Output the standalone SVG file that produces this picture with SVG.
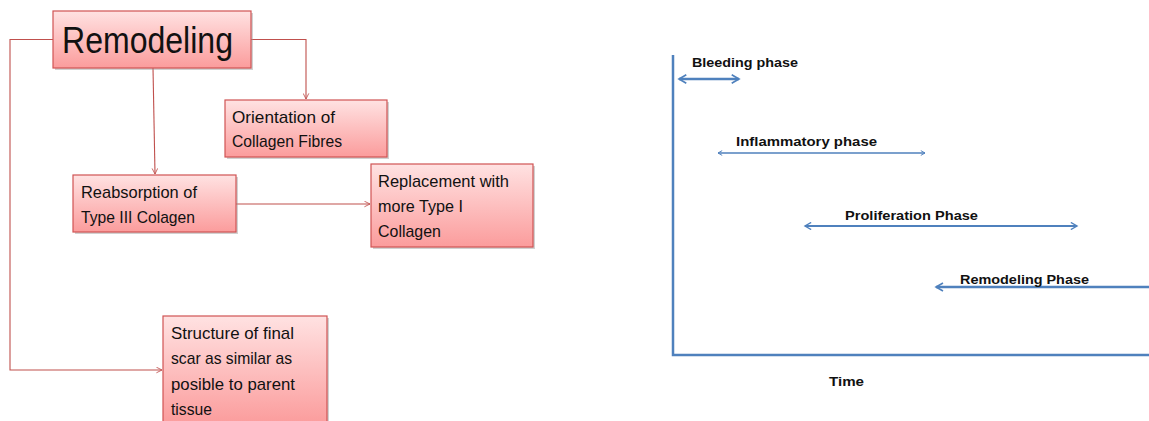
<svg xmlns="http://www.w3.org/2000/svg" width="1149" height="421" viewBox="0 0 1149 421">
<defs>
<linearGradient id="pink" x1="0" y1="0" x2="0" y2="1">
<stop offset="0" stop-color="#ffe2e2"/>
<stop offset="1" stop-color="#fb9c9c"/>
</linearGradient>
<marker id="ra" viewBox="0 0 10 10" refX="9" refY="5" markerWidth="7" markerHeight="7" orient="auto" markerUnits="userSpaceOnUse">
<path d="M1,1 L9,5 L1,9" fill="none" stroke="#c0504d" stroke-width="1.2"/>
</marker>
<marker id="be" viewBox="0 0 10 10" refX="8" refY="5" markerWidth="4" markerHeight="4" orient="auto-start-reverse">
<path d="M1,1 L8,5 L1,9" fill="none" stroke="#4f81bd" stroke-width="1.6"/>
</marker>
</defs>
<style>
.box{fill:url(#pink);stroke:#d05454;stroke-width:1.2}
.sh{fill:#9a9a9a;opacity:0.45}
.t{font-family:"Liberation Sans",Arial,sans-serif;font-size:17px;fill:#111}
.c{fill:none;stroke:#c0504d;stroke-width:1.1}
.b{fill:none;stroke:#4f81bd}
.bt{font-family:"Liberation Sans",Arial,sans-serif;font-size:13.5px;font-weight:bold;fill:#111}
</style>
<g id="connectors">
<polyline class="c" points="53,39.5 10,39.5 10,370 162,370" marker-end="url(#ra)"/>
<polyline class="c" points="251,39.5 306,39.5 306,99" marker-end="url(#ra)"/>
<line class="c" x1="153" y1="68" x2="155" y2="174" marker-end="url(#ra)"/>
<line class="c" x1="236" y1="204" x2="370" y2="204" marker-end="url(#ra)"/>
</g>
<g id="remodeling">
<rect class="sh" x="55" y="13" width="198" height="57"/>
<rect class="box" x="53" y="11" width="198" height="57"/>
<text class="t" x="62" y="53" style="font-size:37px" textLength="171" lengthAdjust="spacingAndGlyphs">Remodeling</text>
</g>
<g id="orientation">
<rect class="sh" x="227" y="102" width="162" height="57"/>
<rect class="box" x="225" y="100" width="162" height="57"/>
<text class="t" x="232" y="123" textLength="103" lengthAdjust="spacingAndGlyphs">Orientation of</text>
<text class="t" x="232" y="147" textLength="110" lengthAdjust="spacingAndGlyphs">Collagen Fibres</text>
</g>
<g id="reabsorption">
<rect class="sh" x="75" y="177" width="163" height="57"/>
<rect class="box" x="73" y="175" width="163" height="57"/>
<text class="t" x="81" y="198" textLength="116" lengthAdjust="spacingAndGlyphs">Reabsorption of</text>
<text class="t" x="81" y="223" textLength="114" lengthAdjust="spacingAndGlyphs">Type III Colagen</text>
</g>
<g id="replacement">
<rect class="sh" x="373" y="166" width="162" height="83"/>
<rect class="box" x="371" y="164" width="162" height="83"/>
<text class="t" x="378" y="187" textLength="131" lengthAdjust="spacingAndGlyphs">Replacement with</text>
<text class="t" x="378" y="212" textLength="85" lengthAdjust="spacingAndGlyphs">more Type I</text>
<text class="t" x="378" y="237" textLength="63" lengthAdjust="spacingAndGlyphs">Collagen</text>
</g>
<g id="structure">
<rect class="sh" x="165" y="318" width="164" height="106"/>
<rect class="box" x="163" y="316" width="164" height="108"/>
<text class="t" x="171" y="339" textLength="123" lengthAdjust="spacingAndGlyphs">Structure of final</text>
<text class="t" x="171" y="364" textLength="121" lengthAdjust="spacingAndGlyphs">scar as similar as</text>
<text class="t" x="171" y="390" textLength="124" lengthAdjust="spacingAndGlyphs">posible to parent</text>
<text class="t" x="171" y="415" textLength="41" lengthAdjust="spacingAndGlyphs">tissue</text>
</g>
<g id="timeline">
<polyline class="b" points="673,55 673,355 1149,355" stroke-width="2.5"/>
<line class="b" x1="679" y1="79" x2="739" y2="79" stroke-width="2.6" marker-start="url(#be)" marker-end="url(#be)"/>
<line class="b" x1="718" y1="153" x2="925" y2="153" stroke-width="1.5" marker-start="url(#be)" marker-end="url(#be)"/>
<line class="b" x1="805" y1="226" x2="1077" y2="226" stroke-width="2.2" marker-start="url(#be)" marker-end="url(#be)"/>
<line class="b" x1="936" y1="287" x2="1149" y2="287" stroke-width="2.5" marker-start="url(#be)"/>
<text class="bt" x="692" y="67" textLength="106" lengthAdjust="spacingAndGlyphs">Bleeding phase</text>
<text class="bt" x="736" y="146" textLength="141" lengthAdjust="spacingAndGlyphs">Inflammatory phase</text>
<text class="bt" x="845" y="220" textLength="133" lengthAdjust="spacingAndGlyphs">Proliferation Phase</text>
<text class="bt" x="960" y="284" textLength="129" lengthAdjust="spacingAndGlyphs">Remodeling Phase</text>
<text class="bt" x="829" y="386" textLength="35" lengthAdjust="spacingAndGlyphs">Time</text>
</g>
</svg>
